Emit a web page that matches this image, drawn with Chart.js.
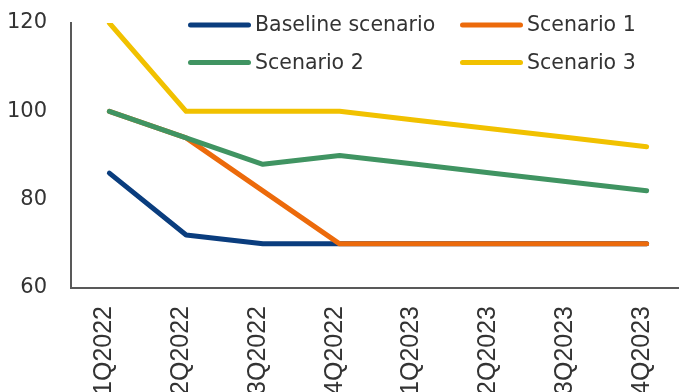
<!DOCTYPE html>
<html>
<head>
<meta charset="utf-8">
<script src="https://cdn.jsdelivr.net/npm/chart.js@4/dist/chart.umd.min.js"></script>
<style>
  html, body { margin: 0; padding: 0; background: #fff; }
  body { width: 679px; height: 392px; overflow: hidden; position: relative; }
  #wrap { position: absolute; left: 0; top: 0; width: 685px; height: 400px; }
</style>
</head>
<body>
<div id="wrap"><canvas id="c" width="685" height="400"></canvas></div>
<script>
// Quarterly categories
const quarters = ['1Q2022', '2Q2022', '3Q2022', '4Q2022', '1Q2023', '2Q2023', '3Q2023', '4Q2023'];

// Scenario paths
const baseline  = [86, 72, 70, 70, 70, 70, 70, 70];
const scenario1 = [100, 94, 82, 70, 70, 70, 70, 70];
const scenario2 = [100, 94, 88, 90, 88, 86, 84, 82];
const scenario3 = [120, 100, 100, 100, 98, 96, 94, 92];

// Y axis ticks
const yTicks = [60, 80, 100, 120];

const seriesNames = ['Baseline scenario', 'Scenario 1', 'Scenario 2', 'Scenario 3'];
const seriesColors = ['#0a3d7e', '#ec6a0b', '#409462', '#f1c100'];
const seriesData = [baseline, scenario1, scenario2, scenario3];

const lineStyle = {
  borderWidth: 5,
  pointRadius: 0,
  pointHoverRadius: 0,
  fill: false,
  tension: 0,
  borderCapStyle: 'round',
  borderJoinStyle: 'round'
};

// 2x2 legend drawn inside the plot area
const gridLegend = {
  id: 'gridLegend',
  afterDatasetsDraw(chart) {
    const ctx = chart.ctx;
    const cols = [188, 460];
    const rows = [25, 62.5];
    const lineLen = 63;
    ctx.save();
    ctx.font = '20.5px "DejaVu Sans", sans-serif';
    ctx.textBaseline = 'middle';
    ctx.textAlign = 'left';
    chart.data.datasets.forEach((ds, i) => {
      const x = cols[i % 2];
      const y = rows[Math.floor(i / 2)];
      ctx.strokeStyle = ds.borderColor;
      ctx.lineWidth = 5;
      ctx.lineCap = 'round';
      ctx.beginPath();
      ctx.moveTo(x + 2.5, y);
      ctx.lineTo(x + lineLen - 2.5, y);
      ctx.stroke();
      ctx.fillStyle = '#333333';
      ctx.fillText(ds.label, x + lineLen + 4, y + 1);
    });
    ctx.restore();
  }
};

new Chart(document.getElementById('c'), {
  type: 'line',
  data: {
    labels: quarters,
    // later series sit on top of earlier ones
    datasets: seriesData.map((d, i) => Object.assign({
      label: seriesNames[i],
      data: d,
      order: seriesData.length - i,
      borderColor: seriesColors[i],
      backgroundColor: seriesColors[i]
    }, lineStyle))
  },
  options: {
    responsive: false,
    animation: false,
    events: [],
    layout: { padding: { top: 23, left: 0, right: 0, bottom: 0 } },
    plugins: {
      legend: { display: false },
      tooltip: { enabled: false }
    },
    scales: {
      x: {
        offset: true,
        grid: { display: false, drawTicks: false },
        border: { display: true, color: '#595959', width: 2 },
        ticks: {
          minRotation: 90,
          maxRotation: 90,
          autoSkip: false,
          padding: 18,
          labelOffset: -5,
          color: '#333333',
          font: { family: '"Liberation Sans", Arial, sans-serif', size: 25 }
        },
        afterFit(scale) {
          scale.height = 112;
          scale.paddingLeft = 0;
          scale.paddingRight = 0;
        }
      },
      y: {
        min: 60,
        max: 120,
        grid: { display: false, drawTicks: false },
        border: { display: true, color: '#595959', width: 2 },
        afterBuildTicks(scale) { scale.ticks = yTicks.map(v => ({ value: v })); },
        ticks: {
          padding: 24,
          color: '#333333',
          font: { family: '"DejaVu Sans", sans-serif', size: 21 }
        },
        afterFit(scale) {
          scale.width = 71;
          scale.paddingTop = 0;
          scale.paddingBottom = 0;
        }
      }
    }
  },
  plugins: [gridLegend]
});
</script>
</body>
</html>
